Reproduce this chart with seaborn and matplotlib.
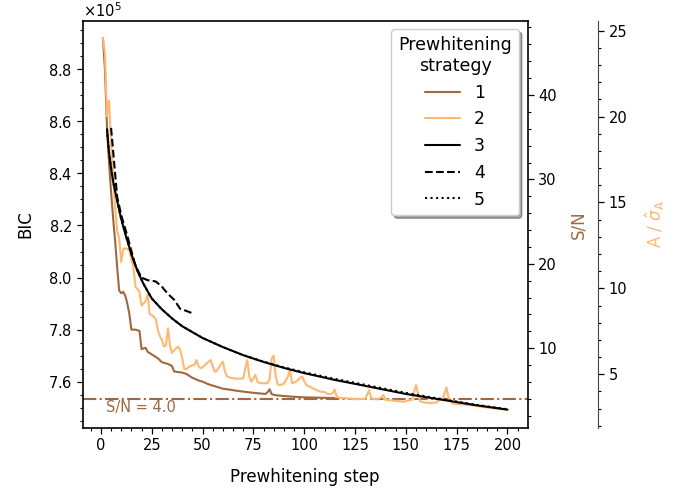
import numpy as np
import pandas as pd
import seaborn as sns
import matplotlib
matplotlib.use("Agg")
import matplotlib.pyplot as plt
from matplotlib.ticker import AutoMinorLocator, ScalarFormatter, MultipleLocator
from matplotlib.transforms import blended_transform_factory

# BIC per prewhitening step for each strategy (in units of 1e5)
steps_1 = [1, 2, 3, 4, 5, 6, 7, 8, 9, 10, 11, 12, 13, 14, 15, 17, 19, 20, 21, 22,
           23, 25, 27, 28, 30, 33, 35, 36, 37, 40, 42, 45, 48, 50, 53, 55, 58, 60,
           63, 66, 70, 74, 78, 81, 82, 83, 84, 86, 90, 95, 100, 105, 110, 115]
bic_1 = [8.92, 8.80, 8.58, 8.44, 8.33, 8.23, 8.14, 8.04, 7.95, 7.94, 7.945, 7.93,
         7.90, 7.86, 7.80, 7.80, 7.795, 7.725, 7.728, 7.73, 7.715, 7.705, 7.695,
         7.69, 7.675, 7.668, 7.66, 7.64, 7.638, 7.635, 7.63, 7.615, 7.605, 7.600,
         7.59, 7.585, 7.578, 7.573, 7.570, 7.566, 7.562, 7.558, 7.555, 7.553,
         7.560, 7.571, 7.552, 7.548, 7.545, 7.542, 7.540, 7.539, 7.538, 7.537]

steps_2 = [1, 2, 3, 4, 5, 6, 7, 8, 9, 10, 11, 12, 13, 14, 15, 16, 17, 18, 19, 20,
           21, 22, 23, 24, 25, 26, 27, 28, 29, 30, 31, 32, 33, 34, 35, 36, 37, 38,
           39, 40, 41, 42, 43, 44, 46, 47, 48, 49, 50, 52, 54, 55, 56, 57, 58, 60,
           61, 62, 64, 66, 68, 70, 71, 72, 73, 74, 75, 76, 77, 78, 80, 82, 83, 84,
           85, 86, 87, 88, 90, 92, 93, 94, 96, 98, 99, 101, 103, 106, 108, 110,
           112, 114, 115, 116, 118, 120, 125, 130, 132, 133, 136, 138, 139, 140,
           143, 146, 149, 151, 153, 155, 157, 159, 162, 165, 167, 168, 170, 171,
           173, 176, 180, 184, 188, 192, 196, 200]
bic_2 = [8.92, 8.86, 8.62, 8.68, 8.52, 8.38, 8.27, 8.18, 8.15, 8.06, 8.11, 8.112,
         8.11, 8.106, 8.07, 8.04, 7.965, 7.955, 7.945, 7.893, 7.90, 7.91, 7.935,
         7.86, 7.856, 7.85, 7.84, 7.80, 7.775, 7.76, 7.735, 7.74, 7.805, 7.74,
         7.71, 7.72, 7.728, 7.735, 7.722, 7.69, 7.65, 7.648, 7.655, 7.66, 7.665,
         7.683, 7.66, 7.652, 7.655, 7.67, 7.683, 7.66, 7.638, 7.642, 7.655, 7.677,
         7.64, 7.62, 7.615, 7.612, 7.612, 7.612, 7.65, 7.683, 7.62, 7.60, 7.612,
         7.626, 7.60, 7.595, 7.594, 7.594, 7.61, 7.69, 7.70, 7.62, 7.59, 7.587,
         7.592, 7.62, 7.648, 7.594, 7.60, 7.615, 7.619, 7.587, 7.58, 7.568, 7.562,
         7.56, 7.552, 7.555, 7.57, 7.542, 7.537, 7.537, 7.533, 7.534, 7.568,
         7.535, 7.532, 7.54, 7.549, 7.53, 7.528, 7.526, 7.523, 7.528, 7.53, 7.587,
         7.525, 7.52, 7.518, 7.52, 7.535, 7.53, 7.578, 7.54, 7.516, 7.514, 7.511,
         7.508, 7.503, 7.499, 7.495, 7.491]

steps_3 = [3, 4, 5, 6, 8, 10, 12, 15, 18, 21, 25, 30, 35, 40, 50, 60, 70, 80, 90,
           100, 115, 130, 150, 170, 185, 200]
bic_3 = [8.57, 8.48, 8.42, 8.37, 8.295, 8.225, 8.168, 8.09, 8.025, 7.975, 7.92,
         7.878, 7.843, 7.813, 7.768, 7.733, 7.702, 7.676, 7.653, 7.633, 7.607,
         7.584, 7.553, 7.528, 7.509, 7.493]

steps_4 = [5, 8, 10, 13, 17, 20, 23, 27, 30, 33, 36, 39, 42, 46]
bic_4 = [8.575, 8.31, 8.24, 8.16, 8.045, 8.00, 7.99, 7.985, 7.965, 7.937, 7.915,
         7.88, 7.872, 7.86]

steps_5 = [3, 4, 5, 6, 8, 10, 12, 15, 18, 21, 25, 30, 35, 40, 50, 60, 70, 80, 90,
           100, 115, 130, 150, 170, 185, 200]
bic_5 = [8.57, 8.48, 8.42, 8.37, 8.295, 8.225, 8.168, 8.09, 8.025, 7.975, 7.92,
         7.878, 7.843, 7.813, 7.768, 7.733, 7.702, 7.677, 7.655, 7.636, 7.611,
         7.588, 7.557, 7.530, 7.511, 7.494]

strategies = ["1", "2", "3", "4", "5"]
sn_threshold = 4.0

BROWN = "#a0683f"
ORANGE = "#ffb872"
colors = [BROWN, ORANGE, "black", "black", "black"]
styles = ["-", "-", "-", "--", ":"]

sns.set_style("ticks")
plt.rcParams["font.family"] = ["DejaVu Sans"]
plt.rcParams["mathtext.fontset"] = "dejavusans"
for key in ["text.color", "axes.labelcolor", "xtick.color", "ytick.color",
            "axes.edgecolor"]:
    plt.rcParams[key] = "black"

fig = plt.figure(figsize=(6.88, 4.96), dpi=100)
ax = fig.add_axes([0.1202, 0.1377, 0.6468, 0.8206])

all_steps = [steps_1, steps_2, steps_3, steps_4, steps_5]
all_bic = [bic_1, bic_2, bic_3, bic_4, bic_5]
frames = []
for name, st, b in zip(strategies, all_steps, all_bic):
    frames.append(pd.DataFrame({"step": st, "BIC": np.array(b) * 1e5,
                                "strategy": name}))
df = pd.concat(frames, ignore_index=True)

for name, col, ls in zip(strategies, colors, styles):
    sub = df[df["strategy"] == name]
    sns.lineplot(data=sub, x="step", y="BIC", ax=ax, color=col, linestyle=ls,
                 linewidth=1.5, label=name, estimator=None, sort=False)

ax.set_xlim(-8.95, 209.95)
ax.set_ylim(7.4233e5, 8.9867e5)
ax.xaxis.set_major_locator(MultipleLocator(25))
ax.xaxis.set_minor_locator(AutoMinorLocator(5))
ax.yaxis.set_major_locator(MultipleLocator(0.2e5))
ax.yaxis.set_minor_locator(AutoMinorLocator(4))
fmt = ScalarFormatter(useMathText=True)
fmt.set_powerlimits((0, 0))
ax.yaxis.set_major_formatter(fmt)
ax.yaxis.get_offset_text().set_fontsize(10.5)
ax.set_xlabel("Prewhitening step", fontsize=12, labelpad=11)
ax.set_ylabel("BIC", fontsize=12, labelpad=10)
ax.tick_params(axis="both", which="major", labelsize=10.5, length=4, width=0.9)
ax.tick_params(axis="both", which="minor", length=2, width=0.8)
for sp in ax.spines.values():
    sp.set_linewidth(1.2)
    sp.set_color("black")

# S/N axis
ax2 = ax.twinx()
ax2.set_ylim(0.59, 48.8)
ax2.yaxis.set_major_locator(MultipleLocator(10))
ax2.yaxis.set_minor_locator(AutoMinorLocator(5))
ax2.tick_params(axis="y", which="major", labelsize=10.5, length=4, width=0.9)
ax2.tick_params(axis="y", which="minor", length=2, width=0.8)
ax2.set_ylabel("S/N", color=BROWN, fontsize=12, labelpad=9)
ax2.axhline(sn_threshold, color=BROWN, linestyle="-.", linewidth=1.5)
tr = blended_transform_factory(ax.transAxes, ax2.transData)
ax2.text(0.052, 3.0, f"S/N = {sn_threshold}", color=BROWN, fontsize=10.5,
         va="center", ha="left", transform=tr)
for sp in ax2.spines.values():
    sp.set_visible(False)

# A / sigma_A axis
ax3 = ax.twinx()
ax3.spines["right"].set_position(("axes", 1.158))
for k in ["left", "top", "bottom"]:
    ax3.spines[k].set_visible(False)
ax3.spines["right"].set_color("#444444")
ax3.set_ylim(1.89, 25.58)
ax3.yaxis.set_major_locator(MultipleLocator(5))
ax3.yaxis.set_minor_locator(AutoMinorLocator(5))
ax3.tick_params(axis="y", which="major", labelsize=10.5, length=4, width=0.9)
ax3.tick_params(axis="y", which="minor", length=2, width=0.8)
ax3.set_ylabel(r"A / $\hat{\sigma}_{\mathrm{A}}$", color=ORANGE, fontsize=12,
               labelpad=12)

leg = ax.legend(title="Prewhitening\nstrategy", loc="upper right", fontsize=12.5,
                title_fontsize=12.5, shadow=True, fancybox=True, framealpha=1,
                edgecolor="#cccccc")
leg.get_title().set_multialignment("center")
leg.set_zorder(10)
ax.set_zorder(ax3.get_zorder() + 1)
ax.patch.set_visible(False)

fig.savefig("out.png", dpi=100)
